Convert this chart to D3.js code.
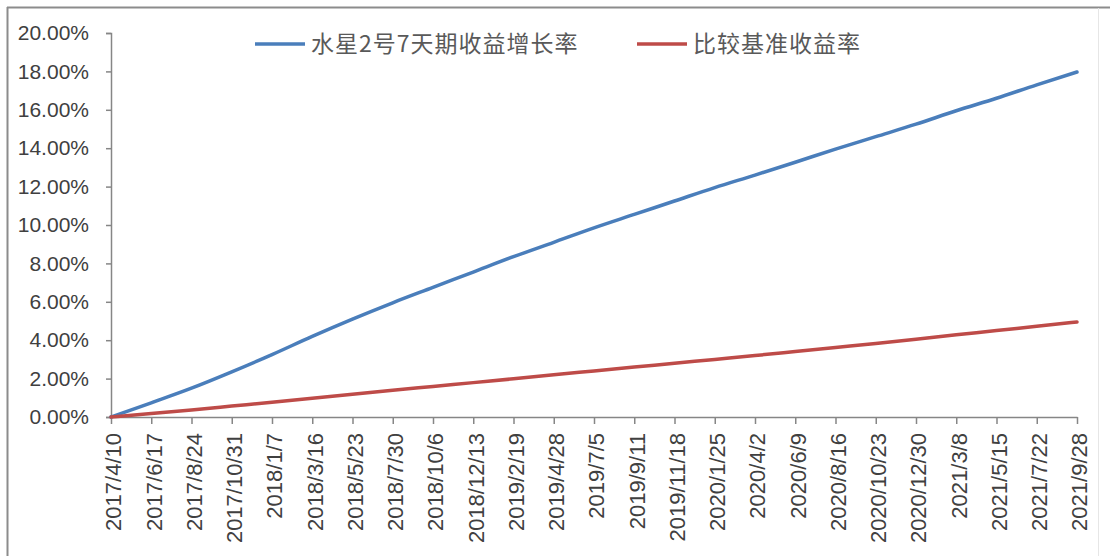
<!DOCTYPE html>
<html lang="zh">
<head>
<meta charset="UTF-8">
<title>水星2号7天期收益增长率</title>
<script src="https://cdn.jsdelivr.net/npm/d3@7"></script>
<style>
  body { margin: 0; background: #fff; }
  svg { display: block; }
  text { font-family: "Liberation Sans", Arial, sans-serif; fill: #404040; }
  .legend text { font-family: "Noto Sans CJK SC", sans-serif; fill: #595959; }
</style>
</head>
<body>
<svg width="1110" height="556"></svg>
<script>
  // x categories (every 68 days)
  const dates = ["2017/4/10", "2017/6/17", "2017/8/24", "2017/10/31", "2018/1/7", "2018/3/16",
    "2018/5/23", "2018/7/30", "2018/10/6", "2018/12/13", "2019/2/19", "2019/4/28", "2019/7/5",
    "2019/9/11", "2019/11/18", "2020/1/25", "2020/4/2", "2020/6/9", "2020/8/16", "2020/10/23",
    "2020/12/30", "2021/3/8", "2021/5/15", "2021/7/22", "2021/9/28"];

  // cumulative returns, %
  const fundReturn = [0, 0.74, 1.5, 2.35, 3.25, 4.2, 5.1, 5.95, 6.75, 7.55, 8.35, 9.1, 9.85,
    10.55, 11.25, 11.95, 12.6, 13.27, 13.95, 14.6, 15.25, 15.95, 16.6, 17.3, 17.97];
  const benchReturn = [0, 0.18, 0.37, 0.57, 0.77, 0.98, 1.18, 1.39, 1.59, 1.79, 1.99, 2.2, 2.4,
    2.6, 2.8, 3.0, 3.2, 3.41, 3.62, 3.83, 4.05, 4.28, 4.5, 4.73, 4.95];

  const yTicks = [0, 2, 4, 6, 8, 10, 12, 14, 16, 18, 20];
  const seriesNames = ["水星2号7天期收益增长率", "比较基准收益率"];
  const seriesColors = ["#4a7ebb", "#be4b48"];

  const svg = d3.select("svg");

  // frame
  svg.append("line").attr("x1", 7).attr("x2", 1110).attr("y1", 7.5).attr("y2", 7.5)
    .attr("stroke", "#8c8c8c").attr("stroke-width", 2);
  svg.append("line").attr("x1", 7.5).attr("x2", 7.5).attr("y1", 7).attr("y2", 556)
    .attr("stroke", "#8c8c8c").attr("stroke-width", 2);
  svg.append("line").attr("x1", 1098.5).attr("x2", 1098.5).attr("y1", 8).attr("y2", 556)
    .attr("stroke", "#e6e6e6").attr("stroke-width", 1);

  const x = d3.scalePoint().domain(dates).range([111, 1077]);
  const y = d3.scaleLinear().domain([0, 20]).range([417, 33]);

  // y axis
  const yAxis = svg.append("g").attr("transform", "translate(111,0)")
    .call(d3.axisLeft(y).tickValues(yTicks).tickSize(5).tickPadding(17)
      .tickFormat(d => d.toFixed(2) + "%"));
  yAxis.select(".domain").attr("stroke", "#868686").attr("stroke-width", 1.5);
  yAxis.selectAll(".tick line").attr("stroke", "#868686").attr("stroke-width", 1.5);
  yAxis.selectAll("text").attr("font-size", 21).attr("fill", "#404040")
    .attr("font-family", "Liberation Sans, Arial, sans-serif");

  // x axis
  const xAxis = svg.append("g").attr("transform", "translate(0,417)")
    .call(d3.axisBottom(x).tickSize(7).tickSizeOuter(0));
  xAxis.select(".domain").attr("stroke", "#868686").attr("stroke-width", 1.5);
  xAxis.selectAll(".tick line").attr("stroke", "#868686").attr("stroke-width", 1.5);
  xAxis.selectAll("text")
    .attr("font-size", 22).attr("fill", "#404040")
    .attr("font-family", "Liberation Sans, Arial, sans-serif")
    .attr("text-anchor", "end")
    .attr("transform", "rotate(-90)")
    .attr("x", -16).attr("y", 0).attr("dy", "0.45em");

  // lines
  const line = d3.line().x((d, i) => x(dates[i])).y(d => y(d)).curve(d3.curveMonotoneX);
  [fundReturn, benchReturn].forEach((vals, k) => {
    svg.append("path").datum(vals)
      .attr("d", line)
      .attr("fill", "none")
      .attr("stroke", seriesColors[k])
      .attr("stroke-width", 3.5)
      .attr("stroke-linecap", "round");
  });

  // legend
  const legend = svg.append("g").attr("class", "legend");
  const legX = [255, 637];
  seriesNames.forEach((name, k) => {
    legend.append("line")
      .attr("x1", legX[k]).attr("x2", legX[k] + 50)
      .attr("y1", 44).attr("y2", 44)
      .attr("stroke", seriesColors[k]).attr("stroke-width", 3.5);
    legend.append("text")
      .attr("x", legX[k] + 56).attr("y", 44).attr("dy", "0.36em")
      .attr("font-size", 23)
      .attr("letter-spacing", 1)
      .text(name);
  });
</script>
</body>
</html>
